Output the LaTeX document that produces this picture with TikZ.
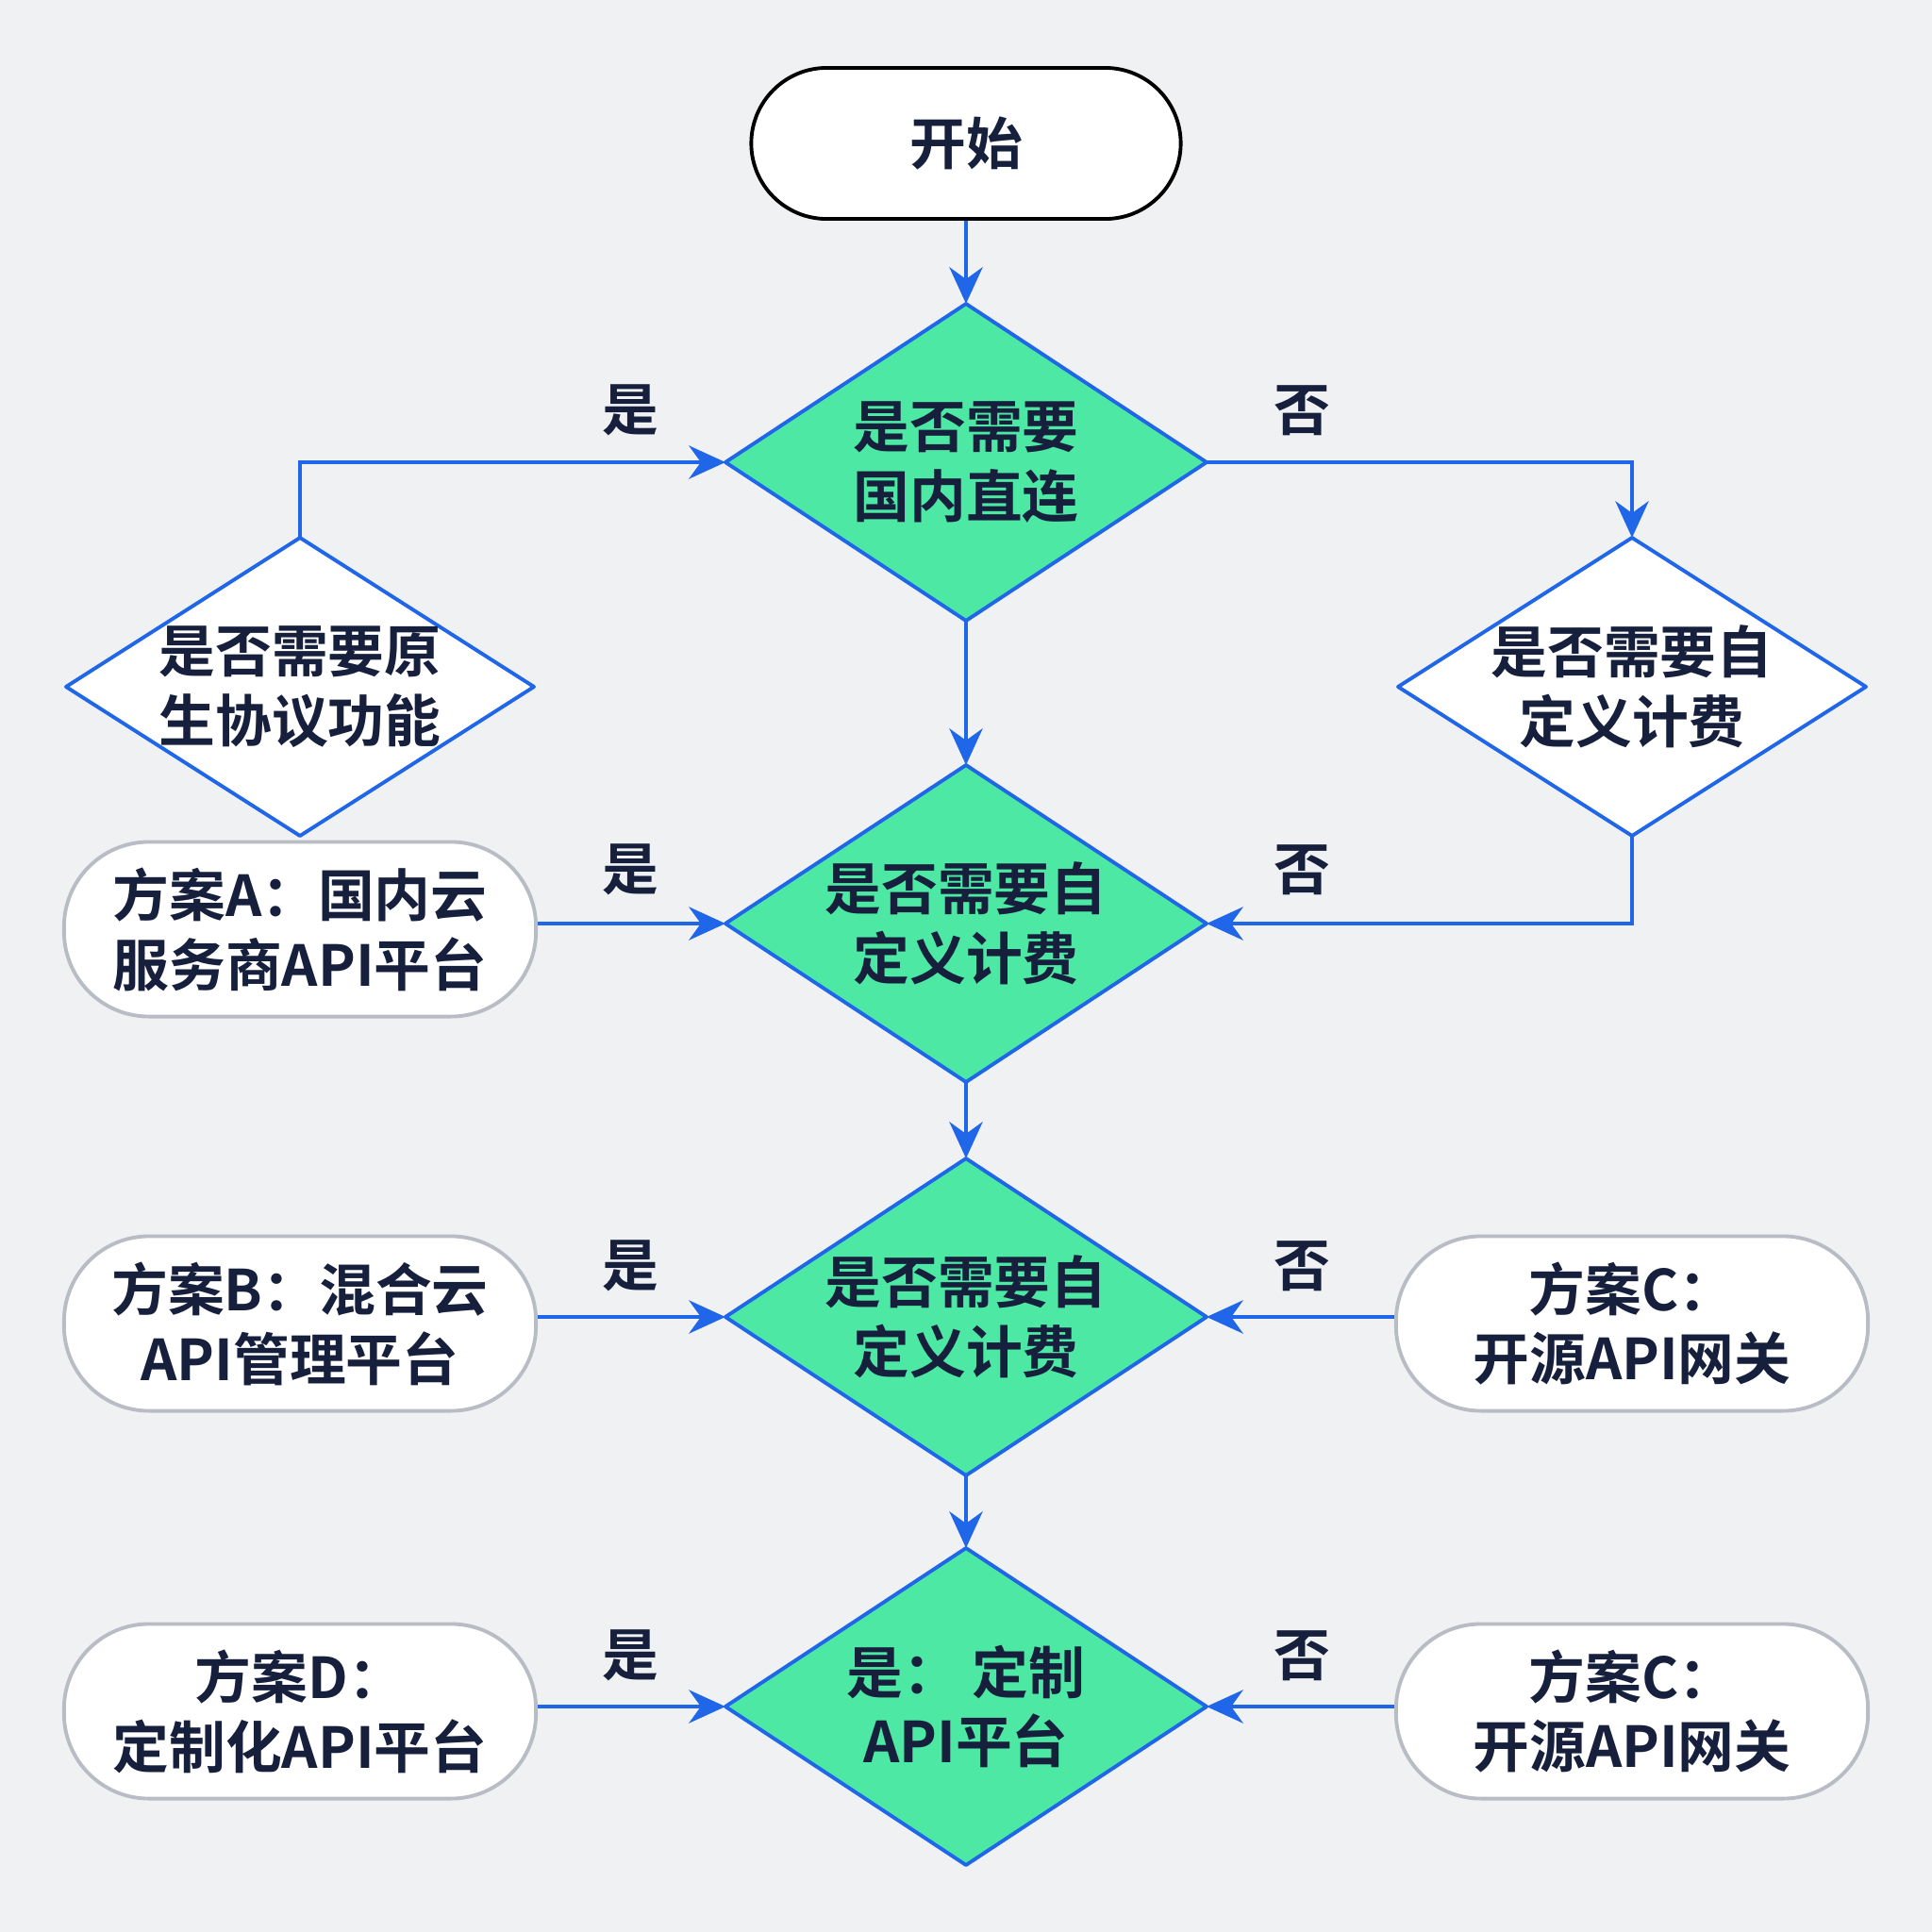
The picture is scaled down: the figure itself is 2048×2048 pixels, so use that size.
\documentclass[tikz,border=0pt]{standalone}
\usepackage{fontspec}
\setmainfont{Noto Sans CJK SC}[BoldFont={Noto Sans CJK SC Bold}]
\usetikzlibrary{arrows.meta}
\definecolor{bg}{HTML}{F0F1F3}
\definecolor{ln}{HTML}{1F66E8}
\definecolor{gr}{HTML}{4CE8A4}
\definecolor{tx}{HTML}{16203C}
\definecolor{gb}{HTML}{B8BCC4}
\tikzset{
  dtext/.style={align=center,font=\fontsize{17}{21}\selectfont\bfseries,text=tx,inner sep=0pt},
  dshape/.style={draw=ln,line width=1.1pt,line join=round},
  plan/.style={rectangle,rounded corners=0.9cm,draw=gb,line width=1.1pt,fill=white,minimum width=5cm,minimum height=1.85cm,align=center,font=\fontsize{17}{21}\selectfont\bfseries,text=tx},
  startbox/.style={plan,draw=black,minimum width=4.55cm,minimum height=1.6cm,rounded corners=0.8cm},
  arr/.style={draw=ln,line width=1.3pt,-{Stealth[length=11pt,width=10pt]}},
  lab/.style={font=\fontsize{17}{20}\selectfont\bfseries,text=tx}
}
% name, x, y, half-width, half-height, fill, text
\newcommand{\mydia}[7]{%
  \coordinate (#1-n) at (#2,#3-#5);
  \coordinate (#1-s) at (#2,#3+#5);
  \coordinate (#1-w) at (#2-#4,#3);
  \coordinate (#1-e) at (#2+#4,#3);
  \filldraw[dshape,fill=#6] (#1-n) -- (#1-e) -- (#1-s) -- (#1-w) -- cycle;
  \node[dtext] (#1) at (#2,#3) {#7};
}
\begin{document}
\begin{tikzpicture}[x=0.01cm,y=-0.01cm]
\fill[bg] (0,0) rectangle (2048,2048);
\useasboundingbox (0,0) rectangle (2048,2048);
\node[startbox] (s) at (1024,152) {开始};
\mydia{d1}{1024}{490}{255}{168}{gr}{是否需要\\国内直连}
\mydia{l}{318}{728}{248}{158}{white}{是否需要原\\生协议功能}
\mydia{r}{1730}{728}{248}{158}{white}{是否需要自\\定义计费}
\mydia{d2}{1024}{979}{255}{168}{gr}{是否需要自\\定义计费}
\mydia{d3}{1024}{1396}{255}{168}{gr}{是否需要自\\定义计费}
\mydia{d4}{1024}{1809}{255}{168}{gr}{是：\ 定制\\API平台}
\node[plan] (a) at (318,985) {方案A：国内云\\服务商API平台};
\node[plan] (b) at (318,1403) {方案B：混合云\\API管理平台};
\node[plan] (c1) at (1730,1403) {方案C：\\开源API网关};
\node[plan] (dd) at (318,1814) {方案D：\\定制化API平台};
\node[plan] (c2) at (1730,1814) {方案C：\\开源API网关};
\draw[arr] (s) -- (d1-n);
\draw[arr] (l-n) |- (d1-w);
\draw[arr] (d1-e) -| (r-n);
\draw[arr] (d1-s) -- (d2-n);
\draw[arr] (a.east |- d2-w) -- (d2-w);
\draw[arr] (r-s) |- (d2-e);
\draw[arr] (d2-s) -- (d3-n);
\draw[arr] (b.east |- d3-w) -- (d3-w);
\draw[arr] (c1.west |- d3-e) -- (d3-e);
\draw[arr] (d3-s) -- (d4-n);
\draw[arr] (dd.east |- d4-w) -- (d4-w);
\draw[arr] (c2.west |- d4-e) -- (d4-e);
\node[lab] (y1) at (668,435) {是};
\node[lab] (n1) at (1380,435) {否};
\node[lab] (y2) at (668,922) {是};
\node[lab] (n2) at (1380,922) {否};
\node[lab] (y3) at (668,1342) {是};
\node[lab] (n3) at (1380,1342) {否};
\node[lab] (y4) at (668,1755) {是};
\node[lab] (n4) at (1380,1755) {否};
\end{tikzpicture}
\end{document}
